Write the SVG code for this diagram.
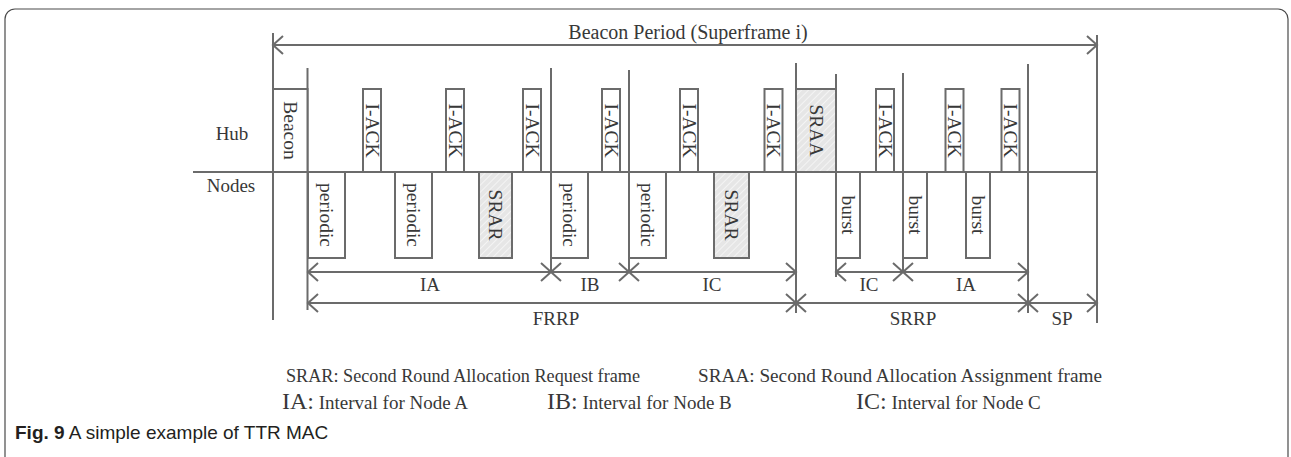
<svg xmlns="http://www.w3.org/2000/svg" width="1291" height="457" viewBox="0 0 1291 457">
<style>
.ln{stroke:#6b6b6b;stroke-width:2;fill:none}
.bx{stroke:#6b6b6b;stroke-width:2;fill:#fff}
.hx{stroke:#6b6b6b;stroke-width:2;fill:url(#hatch)}
.t{font-family:"Liberation Serif","Times New Roman",serif;font-size:19px;fill:#383838}
.r{font-family:"Liberation Serif","Times New Roman",serif;font-size:19.5px;fill:#383838;text-anchor:middle;dominant-baseline:central}
.m{text-anchor:middle}
.cap{font-family:"Liberation Sans",Arial,sans-serif;font-size:19px;fill:#231f20}
</style>
<defs>
<pattern id="hatch" patternUnits="userSpaceOnUse" width="5" height="5" patternTransform="rotate(45)">
<rect width="5" height="5" fill="#e6e6e6"/>
<line x1="0" y1="0" x2="0" y2="5" stroke="#f4f4f4" stroke-width="2"/>
</pattern>
<marker id="ah" markerUnits="userSpaceOnUse" viewBox="-12 -11 14 22" refX="0" refY="0" markerWidth="14" markerHeight="22" orient="auto-start-reverse" overflow="visible">
<path d="M-10,-9 L0,0 L-10,9" fill="none" stroke="#6b6b6b" stroke-width="2"/>
</marker>
</defs>
<rect x="5" y="9" width="1283" height="480" rx="10" fill="#fff" stroke="#4a4a4a" stroke-width="1.2"/>

<g id="connectors">
<line class="ln" x1="273" y1="33" x2="273" y2="320"/>
<line class="ln" x1="307.5" y1="68" x2="307.5" y2="310"/>
<line class="ln" x1="551" y1="68" x2="551" y2="272"/>
<line class="ln" x1="629" y1="70" x2="629" y2="272"/>
<line class="ln" x1="796" y1="63" x2="796" y2="313"/>
<line class="ln" x1="836" y1="74" x2="836" y2="277"/>
<line class="ln" x1="903" y1="73" x2="903" y2="272"/>
<line class="ln" x1="1028" y1="64" x2="1028" y2="313"/>
<line class="ln" x1="1097" y1="35" x2="1097" y2="323"/>
<line class="ln" x1="193" y1="172" x2="1097" y2="172"/>
<line class="ln" x1="273" y1="45" x2="1097" y2="45" marker-start="url(#ah)" marker-end="url(#ah)"/>
<line class="ln" x1="308" y1="272" x2="551" y2="272" marker-start="url(#ah)" marker-end="url(#ah)"/>
<line class="ln" x1="551" y1="272" x2="629" y2="272" marker-start="url(#ah)" marker-end="url(#ah)"/>
<line class="ln" x1="629" y1="272" x2="796" y2="272" marker-start="url(#ah)" marker-end="url(#ah)"/>
<line class="ln" x1="836" y1="272" x2="903" y2="272" marker-start="url(#ah)" marker-end="url(#ah)"/>
<line class="ln" x1="903" y1="272" x2="1028" y2="272" marker-start="url(#ah)" marker-end="url(#ah)"/>
<line class="ln" x1="308" y1="303" x2="796" y2="303" marker-start="url(#ah)" marker-end="url(#ah)"/>
<line class="ln" x1="796" y1="303" x2="1028" y2="303" marker-start="url(#ah)" marker-end="url(#ah)"/>
<line class="ln" x1="1028" y1="303" x2="1097" y2="303" marker-start="url(#ah)" marker-end="url(#ah)"/>
</g>

<g id="labels">
<text class="t m" x="688" y="39" style="font-size:20px">Beacon Period (Superframe i)</text>
<text class="t m" x="232" y="140">Hub</text>
<text class="t m" x="231" y="192">Nodes</text>
<text class="t m" x="430" y="291">IA</text>
<text class="t m" x="590" y="291">IB</text>
<text class="t m" x="712" y="291">IC</text>
<text class="t m" x="869" y="291">IC</text>
<text class="t m" x="966" y="291">IA</text>
<text class="t m" x="556" y="325">FRRP</text>
<text class="t m" x="913" y="325">SRRP</text>
<text class="t m" x="1062" y="325">SP</text>
</g>

<g id="hub-beacon"><rect class="bx" x="273" y="89" width="34.5" height="83"/><text class="r" transform="translate(290,130.5) rotate(90)">Beacon</text></g>
<g id="hub-iack1"><rect class="bx" x="363" y="89" width="18" height="83"/><text class="r" transform="translate(372,130.5) rotate(90)">I-ACK</text></g>
<g id="hub-iack2"><rect class="bx" x="446" y="89" width="18" height="83"/><text class="r" transform="translate(455,130.5) rotate(90)">I-ACK</text></g>
<g id="hub-iack3"><rect class="bx" x="523" y="89" width="18" height="83"/><text class="r" transform="translate(532,130.5) rotate(90)">I-ACK</text></g>
<g id="hub-iack4"><rect class="bx" x="602" y="89" width="18" height="83"/><text class="r" transform="translate(611,130.5) rotate(90)">I-ACK</text></g>
<g id="hub-iack5"><rect class="bx" x="680" y="89" width="18" height="83"/><text class="r" transform="translate(689,130.5) rotate(90)">I-ACK</text></g>
<g id="hub-iack6"><rect class="bx" x="764.5" y="89" width="18" height="83"/><text class="r" transform="translate(773.5,130.5) rotate(90)">I-ACK</text></g>
<g id="hub-sraa"><rect class="hx" x="796" y="89" width="40" height="83"/><text class="r" transform="translate(816,130.5) rotate(90)">SRAA</text></g>
<g id="hub-iack7"><rect class="bx" x="876" y="89" width="18" height="83"/><text class="r" transform="translate(885,130.5) rotate(90)">I-ACK</text></g>
<g id="hub-iack8"><rect class="bx" x="945.5" y="89" width="18" height="83"/><text class="r" transform="translate(954.5,130.5) rotate(90)">I-ACK</text></g>
<g id="hub-iack9"><rect class="bx" x="1001.5" y="89" width="18" height="83"/><text class="r" transform="translate(1010.5,130.5) rotate(90)">I-ACK</text></g>

<g id="node-periodic1"><rect class="bx" x="308" y="172" width="37" height="86"/><text class="r" transform="translate(326.5,215) rotate(90)">periodic</text></g>
<g id="node-periodic2"><rect class="bx" x="395" y="172" width="37" height="86"/><text class="r" transform="translate(413.5,215) rotate(90)">periodic</text></g>
<g id="node-srar1"><rect class="hx" x="479" y="172" width="33" height="86"/><text class="r" transform="translate(495.5,215) rotate(90)">SRAR</text></g>
<g id="node-periodic3"><rect class="bx" x="551" y="172" width="37" height="86"/><text class="r" transform="translate(569.5,215) rotate(90)">periodic</text></g>
<g id="node-periodic4"><rect class="bx" x="629" y="172" width="37" height="86"/><text class="r" transform="translate(647.5,215) rotate(90)">periodic</text></g>
<g id="node-srar2"><rect class="hx" x="714" y="172" width="35" height="86"/><text class="r" transform="translate(731.5,215) rotate(90)">SRAR</text></g>
<g id="node-burst1"><rect class="bx" x="836" y="172" width="24" height="86"/><text class="r" transform="translate(848,215) rotate(90)">burst</text></g>
<g id="node-burst2"><rect class="bx" x="903" y="172" width="24" height="86"/><text class="r" transform="translate(915,215) rotate(90)">burst</text></g>
<g id="node-burst3"><rect class="bx" x="966" y="172" width="24" height="86"/><text class="r" transform="translate(978,215) rotate(90)">burst</text></g>

<g id="legend">
<text class="t" x="286" y="382" style="font-size:18.2px" textLength="354" lengthAdjust="spacingAndGlyphs">SRAR: Second Round Allocation Request frame</text>
<text class="t" x="698" y="382" style="font-size:18.6px" textLength="404" lengthAdjust="spacingAndGlyphs">SRAA: Second Round Allocation Assignment frame</text>
<text class="t" x="282" y="409"><tspan style="font-size:24px">IA:</tspan> Interval for Node A</text>
<text class="t" x="547" y="409"><tspan style="font-size:24px">IB:</tspan> Interval for Node B</text>
<text class="t" x="856" y="409"><tspan style="font-size:24px">IC:</tspan> Interval for Node C</text>
</g>
<text class="cap" x="15" y="439"><tspan font-weight="bold">Fig. 9</tspan> A simple example of TTR MAC</text>
</svg>
